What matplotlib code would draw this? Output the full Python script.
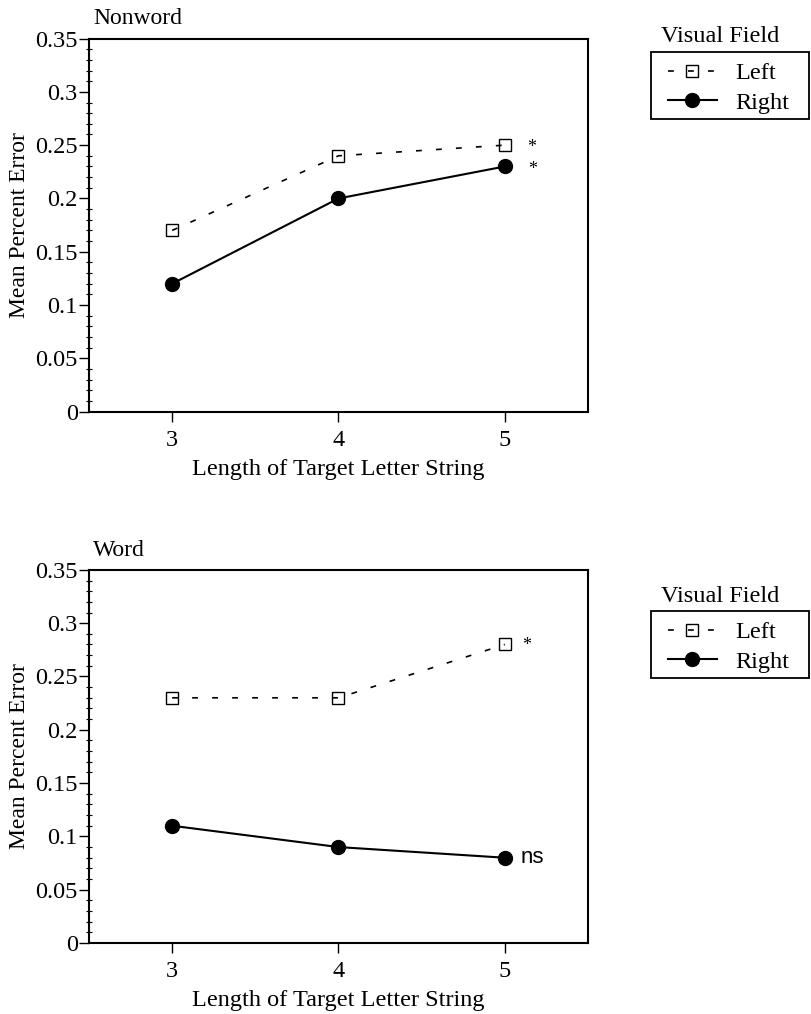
import matplotlib
matplotlib.use("Agg")
import matplotlib.pyplot as plt
from matplotlib.patches import Rectangle
from matplotlib.ticker import MultipleLocator

plt.rcParams['font.family'] = ['Liberation Serif', 'DejaVu Serif']

# data
lengths = [3, 4, 5]
nonword_left = [0.17, 0.24, 0.25]
nonword_right = [0.12, 0.20, 0.23]
word_left = [0.23, 0.23, 0.28]
word_right = [0.11, 0.09, 0.08]
panel_titles = ["Nonword", "Word"]
legend_title = "Visual Field"
series_names = ["Left", "Right"]

W, H = 811, 1014
fig = plt.figure(figsize=(W / 100, H / 100), dpi=100)
ax1 = fig.add_axes([0.1097, 0.594, 0.6153, 0.368])
ax2 = fig.add_axes([0.1097, 0.070, 0.6153, 0.368])


def draw_panel(ax, left, right, title, dy):
    l1, = ax.plot(lengths, left, color="black", lw=1.2, dashes=(3.5, 8.5),
                  marker="s", markersize=9, markerfacecolor="none",
                  markeredgecolor="black", markeredgewidth=1.0,
                  label=series_names[0])
    l2, = ax.plot(lengths, right, color="black", lw=1.5, marker="o",
                  markersize=10, markerfacecolor="black",
                  markeredgecolor="black", label=series_names[1])
    ax.set_xlim(2.5, 5.5)
    ax.set_ylim(0, 0.35)
    ax.set_xticks(lengths)
    ax.set_yticks([0, 0.05, 0.1, 0.15, 0.2, 0.25, 0.3, 0.35])
    ax.set_yticklabels(["0", "0.05", "0.1", "0.15", "0.2", "0.25", "0.3", "0.35"])
    ax.yaxis.set_minor_locator(MultipleLocator(0.01))
    ax.tick_params(axis="y", which="major", direction="out", length=7,
                   width=1, labelsize=17.5, pad=1, right=False)
    ax.tick_params(axis="y", which="minor", direction="inout", length=4,
                   width=0.8, right=False)
    ax.tick_params(axis="x", which="major", direction="out", length=7,
                   width=1, labelsize=17.5, pad=6, top=False)
    for s in ax.spines.values():
        s.set_linewidth(1.5)
    ax.set_ylabel("Mean Percent Error", fontsize=17, labelpad=4)
    ax.set_xlabel("Length of Target Letter String", fontsize=17.5, labelpad=6)
    ax.text(0.008, 1.025, title, transform=ax.transAxes, ha="left",
            va="bottom", fontsize=17)

    # legend: title sits above the box, box drawn by hand
    fig.patches.append(Rectangle((651 / W, 1 - (119 + dy) / H), 158 / W, 67 / H,
                                 transform=fig.transFigure, fill=False,
                                 edgecolor="black", linewidth=1.3))
    ax.legend(handles=[l1, l2], loc="center left",
              bbox_to_anchor=(668 / W, 1 - (88 + dy) / H),
              bbox_transform=fig.transFigure, fontsize=17.5,
              frameon=False, borderaxespad=0, borderpad=0,
              handlelength=2.0, handletextpad=0.75, labelspacing=0.3)
    fig.text(720 / W, 1 - (37 + dy) / H, legend_title, ha="center",
             va="center", fontsize=17.5)


draw_panel(ax1, nonword_left, nonword_right, panel_titles[0], 0)
draw_panel(ax2, word_left, word_right, panel_titles[1], 559)

# significance marks
ax1.annotate("*", xy=(lengths[2], nonword_left[2]), xytext=(19, -2),
             textcoords="offset points", ha="center", va="center", fontsize=13)
ax1.annotate("*", xy=(lengths[2], nonword_right[2]), xytext=(20, -2),
             textcoords="offset points", ha="center", va="center", fontsize=13)
ax2.annotate("*", xy=(lengths[2], word_left[2]), xytext=(16, -1),
             textcoords="offset points", ha="center", va="center", fontsize=13)
ax2.annotate("ns", xy=(lengths[2], word_right[2]), xytext=(11, 0),
             textcoords="offset points", ha="left", va="center", fontsize=16,
             family=["Liberation Sans", "DejaVu Sans"])

fig.savefig("out.png", dpi=100, facecolor="white")
